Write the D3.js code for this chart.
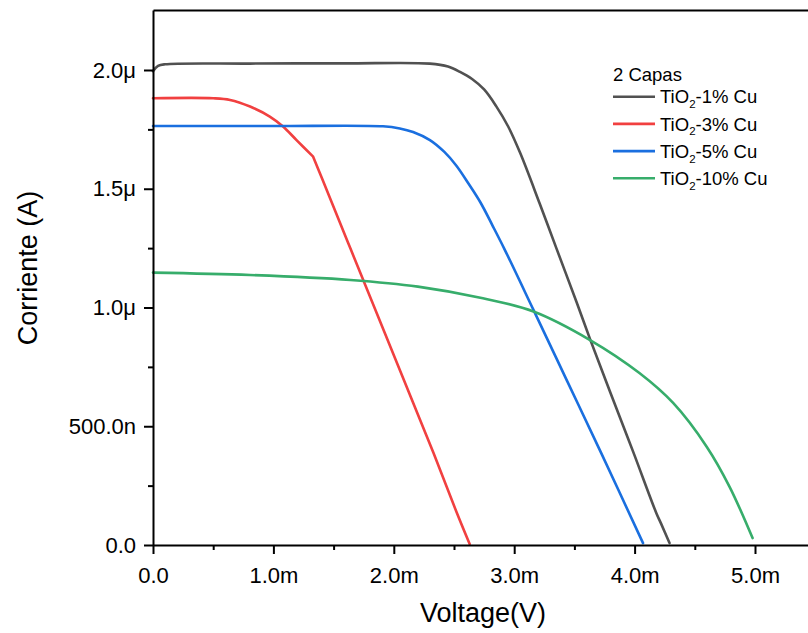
<!DOCTYPE html>
<html>
<head>
<meta charset="utf-8">
<script src="https://cdn.jsdelivr.net/npm/d3@7"></script>
<style>
  html, body { margin: 0; padding: 0; background: #fff; }
  #chart { width: 808px; height: 633px; overflow: hidden; }
  svg { display: block; font-family: "Liberation Sans", Arial, sans-serif; }
  .axis-g .domain, .axis-g line { stroke: #000; stroke-width: 2; }
  .axis-g text { fill: #000; font-size: 22px; font-family: "Liberation Sans", Arial, sans-serif; }
  .line-path { fill: none; stroke-width: 2.6; stroke-linejoin: round; stroke-linecap: round; }
  .axis-title { font-size: 27px; fill: #000; }
  .legend-text { font-size: 18.5px; fill: #000; }
</style>
</head>
<body>
<div id="chart"></div>
<script>
// Voltage in mV, current in µA
const seriesNames = ["1", "3", "5", "10"];
const seriesColors = ["#515151", "#F14040", "#1A6FDF", "#37AD6B"];

const v1 = [0, 0.042, 0.10, 0.806, 1.6, 2.30, 2.45, 2.55, 2.65, 2.75, 2.85, 2.95, 3.05, 3.21, 3.35, 3.52, 3.63, 3.80, 3.99, 4.18, 4.22, 4.29];
const i1 = [1.995, 2.017, 2.024, 2.027, 2.028, 2.027, 2.015, 1.992, 1.962, 1.918, 1.848, 1.762, 1.650, 1.44, 1.25, 1.02, 0.867, 0.64, 0.39, 0.135, 0.09, 0.008];

const v3 = [0, 0.50, 0.64, 0.806, 0.97, 1.08, 1.19, 1.33, 1.40, 1.64, 2.05, 2.33, 2.52, 2.63];
const i3 = [1.881, 1.881, 1.874, 1.846, 1.804, 1.762, 1.706, 1.635, 1.548, 1.248, 0.737, 0.387, 0.140, 0.004];
// the 3% curve has a sharp corner here
const corner3 = 1.33;

const v5 = [0, 1.0, 1.91, 2.05, 2.16, 2.30, 2.42, 2.52, 2.62, 2.72, 2.82, 2.92, 3.16, 3.44, 3.72, 4.07];
const i5 = [1.764, 1.764, 1.763, 1.754, 1.739, 1.705, 1.655, 1.597, 1.522, 1.442, 1.345, 1.245, 0.99, 0.69, 0.39, 0.008];

const v10 = [0, 0.806, 1.64, 2.20, 2.74, 3.16, 3.63, 4.04, 4.32, 4.60, 4.79, 4.98];
const i10 = [1.147, 1.137, 1.116, 1.088, 1.039, 0.983, 0.863, 0.724, 0.598, 0.413, 0.244, 0.029];

const xTicks = [0, 1, 2, 3, 4, 5];
const xTickLabels = ["0.0", "1.0m", "2.0m", "3.0m", "4.0m", "5.0m"];
const xMinorTicks = [0.5, 1.5, 2.5, 3.5, 4.5];
const yTicks = [0, 0.5, 1.0, 1.5, 2.0];
const yTickLabels = ["0.0", "500.0n", "1.0\u03bc", "1.5\u03bc", "2.0\u03bc"];
const yMinorTicks = [0.25, 0.75, 1.25, 1.75];

class IVChart {
  constructor({ el }) {
    this.el = el;
    this.setup();
    this.scaffold();
    this.render();
  }

  setup() {
    this.width = 808;
    this.height = 633;
    this.marginLeft = 153;
    this.marginTop = 10;
    this.plotBottom = 545;
    this.pxPerMilliVolt = 120.4;

    this.x = d3.scaleLinear()
      .domain([0, 5.5])
      .range([this.marginLeft, this.marginLeft + 5.5 * this.pxPerMilliVolt]);
    this.y = d3.scaleLinear()
      .domain([0, 2.2526])
      .range([this.plotBottom, this.marginTop]);

    this.line = d3.line()
      .x((d) => this.x(d[0]))
      .y((d) => this.y(d[1]))
      .curve(d3.curveCatmullRom.alpha(0.5));

    const vs = [v1, v3, v5, v10];
    const is = [i1, i3, i5, i10];
    const corners = [null, corner3, null, null];
    this.series = seriesNames.map((name, k) => {
      const values = vs[k].map((v, j) => [v, is[k][j]]);
      // split at a sharp corner so the smoothing does not round it off
      const c = corners[k];
      const segments = c === null
        ? [values]
        : [values.filter((d) => d[0] <= c), values.filter((d) => d[0] >= c)];
      return { name, color: seriesColors[k], segments };
    });
  }

  scaffold() {
    this.svg = d3.select(this.el)
      .append("svg")
      .attr("width", this.width)
      .attr("height", this.height);
    this.gLines = this.svg.append("g").attr("class", "lines-g");
    this.gX = this.svg.append("g").attr("class", "axis-g axis-g--x");
    this.gXMinor = this.svg.append("g").attr("class", "axis-g axis-g--xminor");
    this.gY = this.svg.append("g").attr("class", "axis-g axis-g--y");
    this.gYMinor = this.svg.append("g").attr("class", "axis-g axis-g--yminor");
    this.gTop = this.svg.append("g").attr("class", "axis-g axis-g--top");
    this.gLegend = this.svg.append("g").attr("class", "legend-g");
  }

  render() {
    this.renderLines();
    this.renderXAxis();
    this.renderYAxis();
    this.renderTitles();
    this.renderLegend();
  }

  renderLines() {
    this.gLines
      .selectAll(".line-path")
      .data(this.series)
      .join("path")
      .attr("class", "line-path")
      .attr("stroke", (d) => d.color)
      .attr("d", (d) => d.segments.map((s) => this.line(s)).join(""));
  }

  renderXAxis() {
    this.gX
      .attr("transform", `translate(0,${this.plotBottom})`)
      .call(
        d3.axisBottom(this.x)
          .tickValues(xTicks)
          .tickFormat((d, i) => xTickLabels[i])
          .tickSize(9)
          .tickSizeOuter(0)
          .tickPadding(13)
      );
    this.gXMinor
      .attr("transform", `translate(0,${this.plotBottom})`)
      .call(d3.axisBottom(this.x).tickValues(xMinorTicks).tickFormat("").tickSize(5).tickSizeOuter(0))
      .call((g) => g.select(".domain").remove());
    this.gTop
      .attr("transform", `translate(0,${this.marginTop})`)
      .call(d3.axisTop(this.x).tickValues([]).tickSizeOuter(0));
  }

  renderYAxis() {
    this.gY
      .attr("transform", `translate(${this.marginLeft},0)`)
      .call(
        d3.axisLeft(this.y)
          .tickValues(yTicks)
          .tickFormat((d, i) => yTickLabels[i])
          .tickSize(9)
          .tickSizeOuter(0)
          .tickPadding(8)
      );
    this.gYMinor
      .attr("transform", `translate(${this.marginLeft},0)`)
      .call(d3.axisLeft(this.y).tickValues(yMinorTicks).tickFormat("").tickSize(5).tickSizeOuter(0))
      .call((g) => g.select(".domain").remove());
  }

  renderTitles() {
    this.svg.append("text")
      .attr("class", "axis-title")
      .attr("text-anchor", "middle")
      .attr("x", 483)
      .attr("y", 622)
      .text("Voltage(V)");
    this.svg.append("text")
      .attr("class", "axis-title")
      .attr("text-anchor", "middle")
      .attr("transform", "translate(37,268) rotate(-90)")
      .text("Corriente (A)");
  }

  renderLegend() {
    const g = this.gLegend.attr("transform", "translate(613,81)");
    g.append("text").attr("class", "legend-text").attr("x", 0).attr("y", 0).text("2 Capas");
    const rows = g.selectAll(".legend-row")
      .data(this.series)
      .join("g")
      .attr("class", "legend-row")
      .attr("transform", (d, i) => `translate(0,${15.7 + i * 27.2})`);
    rows.append("line")
      .attr("x1", 0).attr("x2", 42)
      .attr("stroke", (d) => d.color)
      .attr("stroke-width", 2.6);
    const t = rows.append("text").attr("class", "legend-text").attr("x", 47).attr("y", 6.6);
    t.append("tspan").text("TiO");
    t.append("tspan").attr("font-size", "11.5px").attr("dy", 5).text("2");
    t.append("tspan").attr("dy", -5).text((d) => `-${d.name}% Cu`);
  }
}

new IVChart({ el: document.getElementById("chart") });
</script>
</body>
</html>
